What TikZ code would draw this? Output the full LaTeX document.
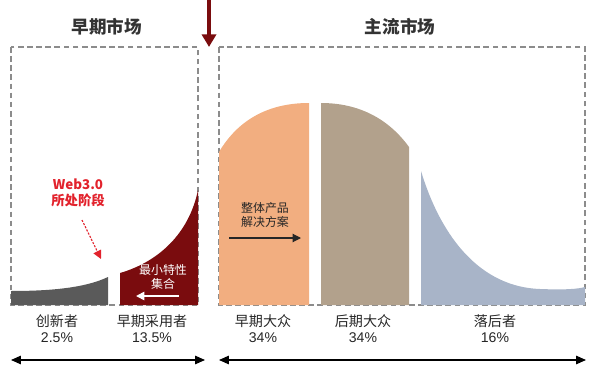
\documentclass[tikz,border=0pt]{standalone}
\usepackage{fontspec}
\setmainfont{Liberation Sans}
\newfontfamily\cjk{Noto Sans CJK SC}
\usetikzlibrary{arrows.meta}

\definecolor{innovgray}{HTML}{5A5A5A}
\definecolor{adoptred}{HTML}{7A0C0E}
\definecolor{earlyorange}{HTML}{F2AE80}
\definecolor{latetan}{HTML}{B2A18C}
\definecolor{lagblue}{HTML}{A8B4C8}
\definecolor{webred}{HTML}{E2222C}
\definecolor{boxgray}{HTML}{8C8C8C}

\begin{document}
\begin{tikzpicture}[x=0.025cm,y=-0.025cm,
    market/.style={draw=boxgray, line width=0.8pt, dash pattern=on 4pt off 2.5pt},
    title/.style={font=\cjk\bfseries\fontsize{12.5}{14}\selectfont, text=black!80},
    group/.style={align=center, font=\fontsize{10}{11.5}\selectfont, text=black!85},
    span/.style={{Triangle[length=7pt,width=6pt]}-{Triangle[length=7pt,width=6pt]}, line width=0.9pt}]
    \useasboundingbox (0,0) rectangle (600,368);

    % --------
    % markets
    % --------
    \draw[market] (11,47) rectangle (198,305);
    \draw[market] (219,47) rectangle (585,305);
    \node[title] at (107,27) (early) {早期市场};
    \node[title] at (400,27) (main) {主流市场};

    % chasm arrow
    \coordinate (chasmtop) at (209,0);
    \coordinate (chasmtip) at (209,47);
    \draw[-{Triangle[length=9pt,width=10pt]}, adoptred, line width=2.2pt] (chasmtop) -- (chasmtip);

    % --------
    % curve
    % --------
    \fill[innovgray] (11,305) -- (11,291) .. controls (50,291) and (85,288) .. (108,277) -- (108,305) -- cycle;
    \fill[adoptred] (120,305) -- (120,273) .. controls (158,262) and (189,234) .. (198,190) -- (198,305) -- cycle;
    \fill[earlyorange] (219,305) -- (219,152) .. controls (238,120) and (268,103) .. (309,103) -- (309,305) -- cycle;
    \fill[latetan] (321,305) -- (321,103) .. controls (358,103) and (388,118) .. (409,147) -- (409,305) -- cycle;
    \fill[lagblue] (421,305) -- (421,171) .. controls (442,240) and (482,287) .. (540,289) .. controls (565,290) and (578,289) .. (585,287) -- (585,305) -- cycle;

    % --------
    % notes
    % --------
    \node[align=center, text=webred, font=\cjk\bfseries\fontsize{9.5}{11}\selectfont] at (78,193) (web) {Web3.0\\所处阶段};
    \coordinate (webtail) at (82,220);
    \coordinate (webtip) at (101,259);
    \draw[-{Triangle[length=6pt,width=6pt]}, webred, line width=0.8pt, dash pattern=on 1.5pt off 1pt] (webtail) -- (webtip);

    \node[align=center, text=white, font=\cjk\fontsize{8.5}{10.5}\selectfont] at (163,277) (mvp) {最小特性\\集合};
    \coordinate (mvpfrom) at (179,296);
    \coordinate (mvpto) at (136,296);
    \draw[-{Triangle[length=6pt,width=6pt]}, white, line width=1.2pt] (mvpfrom) -- (mvpto);

    \node[align=center, text=black!85, font=\cjk\fontsize{8.5}{10.5}\selectfont] at (265,215) (whole) {整体产品\\解决方案};
    \coordinate (wholefrom) at (229,238);
    \coordinate (wholeto) at (301,238);
    \draw[-{Triangle[length=6pt,width=6pt]}, black!85, line width=0.8pt] (wholefrom) -- (wholeto);

    % --------
    % groups
    % --------
    \node[group] at (57,329) (innov) {{\cjk 创新者}\\2.5\%};
    \node[group] at (152,329) (adopt) {{\cjk 早期采用者}\\13.5\%};
    \node[group] at (263,329) (emaj) {{\cjk 早期大众}\\34\%};
    \node[group] at (363,329) (lmaj) {{\cjk 后期大众}\\34\%};
    \node[group] at (495,329) (lag) {{\cjk 落后者}\\16\%};

    % spans
    \coordinate (earlyL) at (11,360);
    \coordinate (earlyR) at (205,360);
    \coordinate (mainL) at (219,360);
    \coordinate (mainR) at (586,360);
    \draw[span] (earlyL) -- (earlyR);
    \draw[span] (mainL) -- (mainR);
\end{tikzpicture}
\end{document}
